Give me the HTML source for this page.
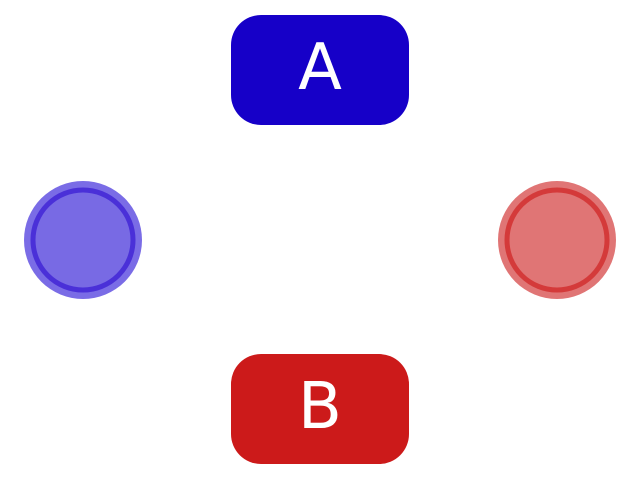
<!DOCTYPE html>
<html><head><meta charset="utf-8"><style>html,body{margin:0;padding:0;background:#fff}</style></head>
<body>
<svg width="640" height="480" viewBox="0 0 640 480" xmlns="http://www.w3.org/2000/svg">
<rect x="231" y="15" width="178" height="110" rx="30" fill="#1600c8"/>
<text x="320" y="89" text-anchor="middle" font-family="DejaVu Sans, sans-serif" font-size="64" fill="#fff">A</text>
<rect x="231" y="354" width="178" height="110" rx="30" fill="#cc1a1a"/>
<text x="320" y="428" text-anchor="middle" font-family="DejaVu Sans, sans-serif" font-size="64" fill="#fff">B</text>
<circle cx="83" cy="240" r="59" fill="#7a6ce6"/>
<circle cx="83" cy="240" r="50" fill="#786ae4" stroke="#4a30d8" stroke-width="5"/>
<circle cx="557" cy="240" r="59" fill="#e07575"/>
<circle cx="557" cy="240" r="50" fill="#e07575" stroke="#d43a3a" stroke-width="5"/>
</svg>
</body></html>
